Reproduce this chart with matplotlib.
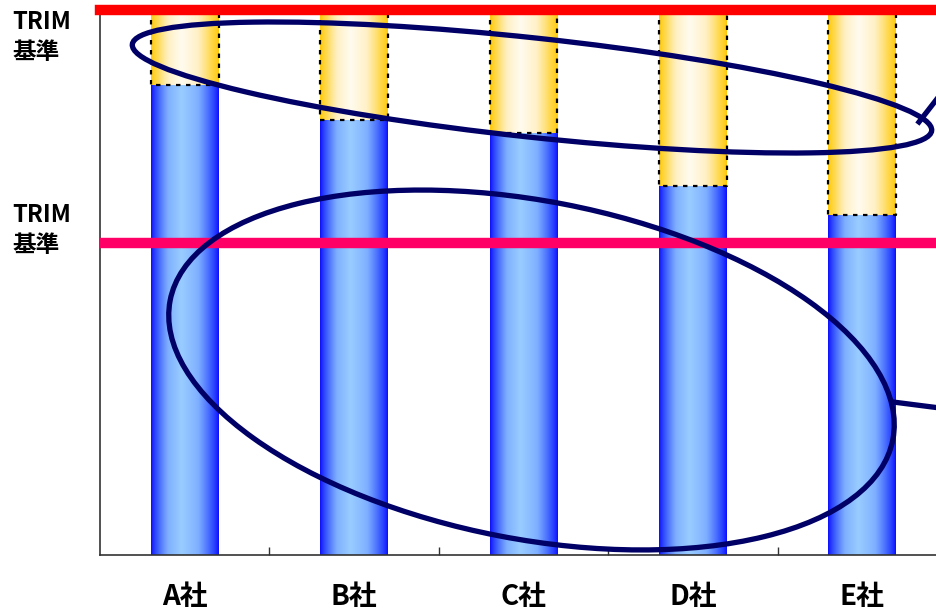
import numpy as np
import matplotlib
matplotlib.use("Agg")
import matplotlib.pyplot as plt
from matplotlib.patches import Ellipse
from matplotlib.colors import LinearSegmentedColormap
from matplotlib.transforms import Affine2D

plt.rcParams['font.family'] = ['Noto Sans CJK JP', 'DejaVu Sans']

# ---- data ----
categories = ["A社", "B社", "C社", "D社", "E社"]
current = [86.2, 79.8, 77.4, 67.7, 62.4]       # blue part
gap = [13.8, 20.2, 22.6, 32.3, 37.6]           # yellow part up to upper TRIM level
trim_upper = 100.0
trim_lower = 57.2
trim_label = "TRIM\n基準"

W, H = 937, 611
fig = plt.figure(figsize=(W / 100, H / 100), dpi=100)
ax = fig.add_axes([100 / W, (H - 555) / H, 847 / W, 545 / H])
ax.set_xlim(-0.5, len(categories) - 0.5)
ax.set_ylim(0, 100)

# pixel transform (top-left origin) for annotation shapes
pix = Affine2D().scale(1 / W, -1 / H).translate(0, 1) + fig.transFigure

x = np.arange(len(categories))
bw = 0.4
blue_cmap = LinearSegmentedColormap.from_list("b", ["#0808FF", "#3A5BFF", "#7FB0FF", "#99CCFF"])
yel_cmap = LinearSegmentedColormap.from_list("y", ["#FFC800", "#FFD84D", "#FFF0C4", "#FFFBEE"])
u = np.linspace(0, 1, 256)
prof = 1 - np.abs(np.where(u < 0.45, (u - 0.45) / 0.45, (u - 0.45) / 0.55))
prof = prof ** 0.7
grad = prof[np.newaxis, :]

blue_bars = ax.bar(x, current, width=bw, color='none', edgecolor='none', zorder=2)
yel_bars = ax.bar(x, gap, width=bw, bottom=current, color='none', edgecolor='none', zorder=2)

for bars, cmap in ((blue_bars, blue_cmap), (yel_bars, yel_cmap)):
    for p in bars:
        x0, y0 = p.get_x(), p.get_y()
        w, h = p.get_width(), p.get_height()
        im = ax.imshow(grad, cmap=cmap, vmin=0, vmax=1, aspect='auto',
                       extent=(x0, x0 + w, y0, y0 + h), zorder=2, interpolation='bilinear')
        im.set_clip_path(p)

# dotted borders of yellow parts
for p in yel_bars:
    x0, y0 = p.get_x(), p.get_y()
    w, h = p.get_width(), p.get_height()
    ax.plot([x0, x0, x0 + w, x0 + w], [y0 + h, y0, y0, y0 + h], color='black',
            lw=1.6, linestyle=(0, (2, 2.5)), zorder=3)

ax.set_ylim(0, 100)
ax.set_xlim(-0.5, len(categories) - 0.5)

# TRIM lines
ax.axhline(trim_upper, color='#FF0000', lw=7.5, zorder=4, clip_on=False)
ax.axhline(trim_lower, color='#FF0066', lw=7.5, zorder=4)

# axes styling
for s in ('top', 'right'):
    ax.spines[s].set_visible(False)
for s in ('left', 'bottom'):
    ax.spines[s].set_color('#333333')
    ax.spines[s].set_linewidth(1.2)
ax.set_yticks([])
ax.set_xticks(x)
ax.set_xticklabels(categories, fontsize=20, fontweight='bold')
ax.tick_params(axis='x', which='major', length=0, pad=20)
ax.set_xticks(x[:-1] + 0.5, minor=True)
ax.tick_params(axis='x', which='minor', direction='in', length=6, width=1, color='#333333')

# labels
for ytop in (10, 203):
    fig.text(12, ytop, trim_label, transform=pix, fontsize=17, fontweight='bold',
             va='top', ha='left', linespacing=1.3)

# ellipses
navy = '#000066'
e1 = Ellipse((532, 87.5), 2 * 402, 2 * 49.6, angle=6.16, transform=pix,
             fill=False, edgecolor=navy, lw=3.8, zorder=6)
e2 = Ellipse((531.5, 370), 2 * 368, 2 * 169, angle=10.9, transform=pix,
             fill=False, edgecolor=navy, lw=3.8, zorder=6)
fig.add_artist(e1)
fig.add_artist(e2)
fig.add_artist(plt.Line2D([919, 940], [122, 95], transform=pix, color=navy, lw=3.8))
fig.add_artist(plt.Line2D([893, 940], [402, 408], transform=pix, color=navy, lw=3.8))

fig.savefig("out.png", dpi=100)
